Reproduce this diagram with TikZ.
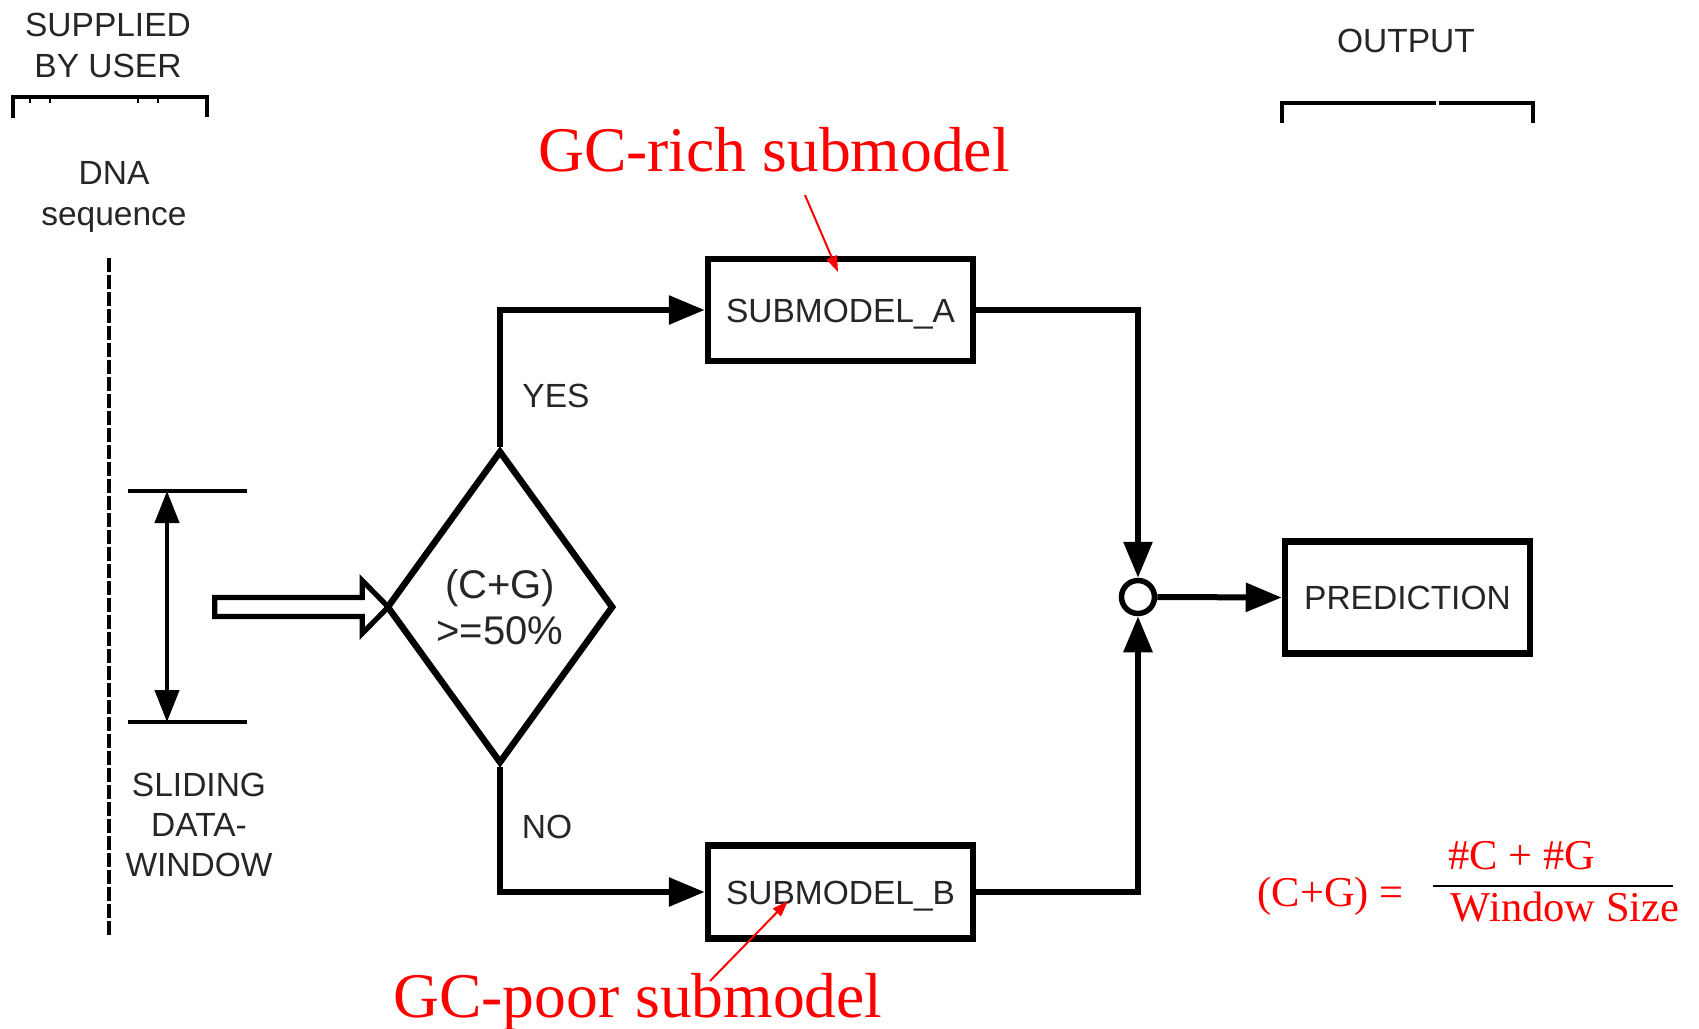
\documentclass[tikz,border=0pt]{standalone}
\usepackage{fontspec}
\setmainfont{Liberation Serif}
\newfontfamily\labelfont{Liberation Sans}
\usetikzlibrary{arrows.meta,shapes.geometric,calc}

\definecolor{labgray}{HTML}{262626}
\definecolor{notered}{HTML}{FF0000}

\begin{document}
\begin{tikzpicture}[x=0.5pt,y=-0.5pt,
  lab/.style={font=\labelfont\fontsize{16.75}{20.5}\selectfont, text=labgray, inner sep=0pt, align=center},
  boxlab/.style={font=\labelfont\fontsize{16.75}{20.5}\selectfont, text=labgray},
  box/.style={draw, line width=3.25pt, inner sep=0pt, boxlab, text height=12pt, text depth=0pt},
  conn/.style={line width=3pt, -{Triangle[length=18pt,width=14pt]}},
  note/.style={font=\fontsize{31.8}{36}\selectfont, text=notered, inner sep=0pt},
  notearrow/.style={draw=notered, line width=1pt, -{Triangle[length=8pt,width=5.5pt]}},
  formula/.style={font=\fontsize{21.25}{24}\selectfont, text=notered, inner sep=0pt},
  bracket/.style={line width=2.4pt},
]
\fill[white] (0,0) rectangle (1699,1029);
\useasboundingbox (0,0) rectangle (1699,1029);

% column headings and their brackets
\node[lab, anchor=north] (supplied) at (108,13) {SUPPLIED\\BY USER};
\draw[bracket] (13,118) -- (13,97) -- (207,97) -- (207,117);
\foreach \x in {30,50,138,158} \draw[line width=0.8pt] (\x,97) -- (\x,103);
\node[lab, anchor=base] (output) at (1406,52) {OUTPUT};
\draw[bracket] (1282,123) -- (1282,103) -- (1436,103);
\draw[bracket] (1439,103) -- (1533,103) -- (1533,123);

% input sequence with the sliding window
\node[lab, anchor=north] (dna) at (114,161) {DNA\\sequence};
\draw[line width=2.2pt, dash pattern=on 7pt off 1.5pt] (109,258) -- (109,937);
\draw[line width=2.2pt] (128,491) -- (247,491);
\draw[line width=2.2pt] (128,722) -- (247,722);
\coordinate (wtop) at (167,491);
\coordinate (wbot) at (167,722);
\draw[line width=2.2pt, {Triangle[length=16pt,width=12pt]}-{Triangle[length=16pt,width=12pt]}] (wtop) -- (wbot);
\node[lab, anchor=north, font=\labelfont\fontsize{16.75}{20}\selectfont] (sliding) at (199,773) {SLIDING\\DATA-\\WINDOW};

% decision
\node[draw, diamond, line width=3.25pt, minimum width=113.5pt, minimum height=156.5pt, inner sep=0pt,
      lab, font=\labelfont\fontsize{20}{23}\selectfont] (dec) at (500,607) {(C+G)\\>=50\%};

% hollow input arrow into the decision
\begin{scope}[shift={(dec.west)}]
  \draw[line width=2.6pt] (-168.5,-9.5) -- (-21,-9.5) -- (-21,-26.5) -- (5,0)
        -- (-21,26.5) -- (-21,9.5) -- (-168.5,9.5) -- cycle;
\end{scope}

% submodels, junction and output
\node[box, minimum width=132.5pt, minimum height=51pt] (subA) at (840.5,310) {SUBMODEL\_A};
\node[box, minimum width=132.5pt, minimum height=46.5pt] (subB) at (840.5,892) {SUBMODEL\_B};
\node[circle, draw, line width=2.75pt, minimum size=16.5pt, inner sep=0pt] (circ) at (1138,597) {};
\node[box, minimum width=122.5pt, minimum height=56pt] (pred) at (1407.5,597.5) {PREDICTION};

\draw[conn] (dec.north) |- (subA.west);
\draw[conn] (dec.south) |- (subB.west);
\draw[conn] (subA.east) -| (circ.north);
\draw[conn] (subB.east) -| (circ.south);
\draw[conn] (circ.east) -- (pred.west);

\node[lab, anchor=base] (yes) at (556,407) {YES};
\node[lab, anchor=base] (no) at (547,838) {NO};

% annotations
\node[note, anchor=base] (rich) at (774,171) {GC-rich submodel};
\node[note, anchor=base] (poor) at (638,1017) {GC-poor submodel};
\coordinate (richfrom) at (805,195);
\coordinate (richtip) at (838,272);
\coordinate (poorfrom) at (710,981);
\coordinate (poortip) at (788,901);
\draw[notearrow] (richfrom) -- (richtip);
\draw[notearrow] (poorfrom) -- (poortip);

% definition of (C+G)
\node[formula, anchor=base] (cgl) at (1330.5,906) {(C+G) =};
\node[formula, anchor=base] (num) at (1522,869) {\#C + \#G};
\node[formula, anchor=base] (den) at (1565,921) {Window Size};
\coordinate (barl) at (1433,886);
\coordinate (barr) at (1673,886);
\draw[line width=1.3pt] (barl) -- (barr);
\end{tikzpicture}
\end{document}
